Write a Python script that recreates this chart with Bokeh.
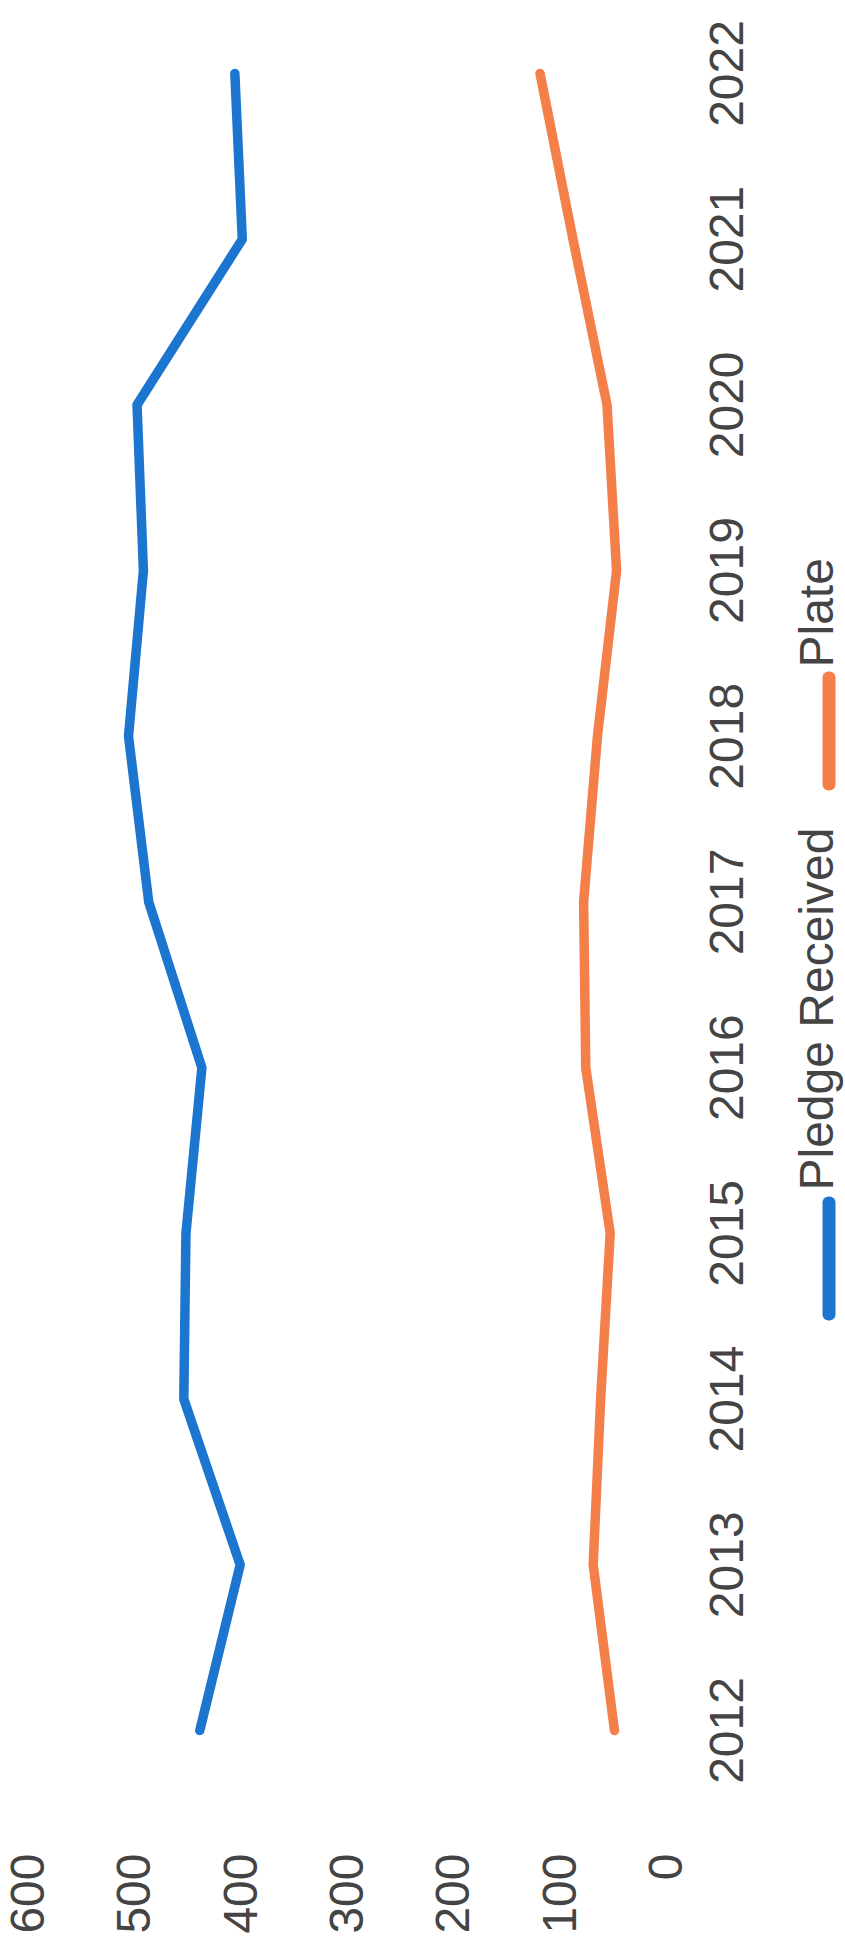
import math
from bokeh.plotting import figure
from bokeh.layouts import row
from bokeh.models import Range1d, LinearAxis, FixedTicker, Label, BoxAnnotation
from bokeh.embed import file_html
from bokeh.resources import INLINE

# ---- data ----
years = [2012, 2013, 2014, 2015, 2016, 2017, 2018, 2019, 2020, 2021, 2022]
year_labels = ["2012", "2013", "2014", "2015", "2016", "2017", "2018", "2019", "2020", "2021", "2022"]
pledge_received = [438, 400, 453, 451, 436, 486, 505, 491, 497, 398, 405]
plate = [48, 68, 61, 52, 75, 77, 64, 46, 55, 87, 118]
value_ticks = [0, 100, 200, 300, 400, 500, 600]
value_labels = ["0", "100", "200", "300", "400", "500", "600"]
series_names = ["Pledge Received", "Plate"]
series_colors = ["#1c76d0", "#f47f48"]

FONT = "Liberation Sans"
TXT = "#444444"
FS = "48px"
H = 1936
FB = 1788  # frame bottom (shared by both panels, frames are aligned)

p = figure(width=795, height=H,
           x_range=Range1d(600, 0), y_range=Range1d(2011.65, 2022.35),
           output_backend="svg", toolbar_location=None,
           x_axis_location=None, y_axis_location=None,
           min_border_left=27, min_border_top=15, min_border_right=130, min_border_bottom=148)
p.outline_line_color = None
p.xgrid.visible = False
p.ygrid.visible = False
# range used only to centre the rotated year labels on their ticks
p.extra_y_ranges = {"yr": Range1d(2011.65 + 0.322, 2022.35 + 0.322)}

xaxis = LinearAxis(ticker=FixedTicker(ticks=value_ticks),
                   major_label_overrides={float(t): l for t, l in zip(value_ticks, value_labels)},
                   major_label_orientation=math.pi / 2, major_label_standoff=65,
                   major_tick_out=0, major_tick_in=0, minor_tick_out=0, minor_tick_in=0,
                   axis_line_color=None, major_label_text_font_size=FS,
                   major_label_text_font=FONT, major_label_text_color=TXT)
p.add_layout(xaxis, "below")

yaxis = LinearAxis(y_range_name="yr", ticker=FixedTicker(ticks=years),
                   major_label_overrides={float(t): l for t, l in zip(years, year_labels)},
                   major_label_orientation=math.pi / 2, major_label_standoff=61,
                   major_tick_out=0, major_tick_in=0, minor_tick_out=0, minor_tick_in=0,
                   axis_line_color=None, major_label_text_font_size=FS,
                   major_label_text_font=FONT, major_label_text_color=TXT)
p.add_layout(yaxis, "right")

for vals, col in zip([pledge_received, plate], series_colors):
    p.line(x=vals, y=years, line_width=9.5, line_color=col, line_cap="round", line_join="round")

# ---- legend (rotated), in a narrow companion panel ----
lg = figure(width=50, height=H, x_range=Range1d(0, 1), y_range=Range1d(0, 1),
            output_backend="svg", toolbar_location=None,
            x_axis_location=None, y_axis_location=None,
            min_border_left=0, min_border_right=0, min_border_top=0, min_border_bottom=0)
lg.outline_line_color = None
lg.xgrid.visible = False
lg.ygrid.visible = False

LFS = "48px"
lg.add_layout(Label(x=21, y=FB - 1190, x_units="screen", y_units="screen", text=series_names[0],
                    angle=math.pi / 2, text_align="left", text_baseline="alphabetic",
                    text_font=FONT, text_font_size=LFS, text_color=TXT))
lg.add_layout(Label(x=21, y=FB - 667, x_units="screen", y_units="screen", text=series_names[1],
                    angle=math.pi / 2, text_align="left", text_baseline="alphabetic",
                    text_font=FONT, text_font_size=LFS, text_color=TXT))
lg.add_layout(BoxAnnotation(left=27, right=40, bottom=FB - 1320, top=FB - 1196,
                            left_units="screen", right_units="screen",
                            bottom_units="screen", top_units="screen",
                            fill_color=series_colors[0], fill_alpha=1, line_color=None,
                            border_radius=6))
lg.add_layout(BoxAnnotation(left=27, right=40, bottom=FB - 790, top=FB - 671,
                            left_units="screen", right_units="screen",
                            bottom_units="screen", top_units="screen",
                            fill_color=series_colors[1], fill_alpha=1, line_color=None,
                            border_radius=6))

layout = row(p, lg, spacing=0)
open("out.html", "w").write(file_html(layout, INLINE))
